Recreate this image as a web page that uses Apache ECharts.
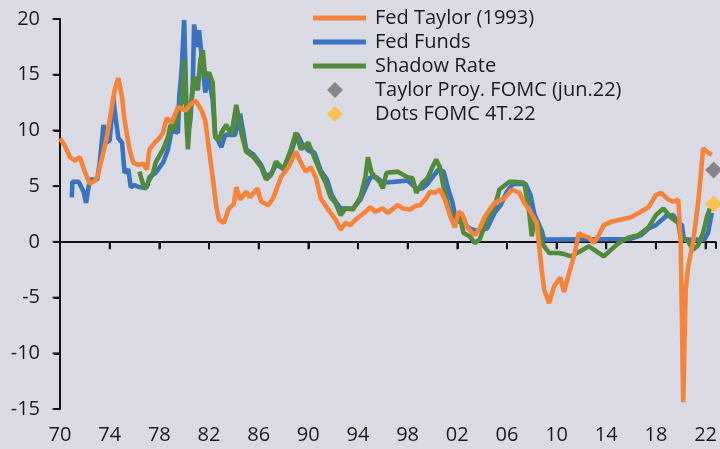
<!DOCTYPE html>
<html>
<head>
<meta charset="utf-8">
<script src="https://cdn.jsdelivr.net/npm/echarts@6/dist/echarts.min.js"></script>
<style>
  html, body { margin: 0; padding: 0; background: #dadae4; }
  #chart { width: 720px; height: 449px; }
</style>
</head>
<body>
<div id="chart"></div>
<script>
// ---------- DATA (year, value) ----------
const fedTaylor = [
  [1970.0, 9.3], [1970.4, 8.6], [1970.8, 7.6], [1971.2, 7.3], [1971.6, 7.6], [1972.0, 6.3],
  [1972.4, 5.2], [1972.8, 5.5], [1973.0, 5.8], [1973.4, 7.6], [1973.7, 9.0], [1974.0, 10.9],
  [1974.4, 13.6], [1974.7, 14.7], [1975.0, 13.0], [1975.2, 10.9], [1975.6, 8.3], [1975.9, 7.1],
  [1976.3, 6.9], [1976.7, 7.0], [1977.0, 6.5], [1977.2, 8.3], [1977.7, 9.0], [1978.0, 9.3],
  [1978.3, 9.8], [1978.6, 11.1], [1979.0, 10.7], [1979.5, 12.1], [1980.1, 11.8], [1980.5, 12.3],
  [1980.9, 12.7], [1981.4, 11.8], [1981.7, 10.9], [1982.0, 8.3], [1982.3, 5.8], [1982.6, 3.1],
  [1982.8, 2.0], [1983.2, 1.7], [1983.6, 3.0], [1984.0, 3.4], [1984.2, 4.9], [1984.5, 3.8],
  [1985.0, 4.5], [1985.3, 4.0], [1985.9, 4.8], [1986.2, 3.6], [1986.8, 3.3], [1987.2, 4.0],
  [1987.8, 5.8], [1988.4, 6.7], [1989.0, 8.1], [1989.4, 7.1], [1989.8, 6.3], [1990.2, 6.7],
  [1990.6, 5.8], [1991.0, 3.9], [1991.6, 2.9], [1992.2, 2.0], [1992.6, 1.1], [1993.0, 1.7],
  [1993.4, 1.5], [1993.8, 2.0], [1994.4, 2.5], [1995.0, 3.1], [1995.4, 2.7], [1996.0, 3.0],
  [1996.4, 2.6], [1997.2, 3.3], [1997.6, 3.0], [1998.2, 2.9], [1998.6, 3.2], [1999.0, 3.3],
  [1999.5, 3.9], [1999.8, 4.5], [2000.2, 4.4], [2000.6, 4.7], [2001.0, 3.8], [2001.4, 2.4],
  [2001.8, 1.3], [2002.1, 2.7], [2002.4, 2.5], [2002.8, 1.3], [2003.4, 0.6], [2003.8, 1.2],
  [2004.2, 2.2], [2004.6, 2.9], [2005.0, 3.5], [2005.8, 3.9], [2006.4, 4.7], [2007.0, 4.4],
  [2007.4, 3.5], [2007.8, 2.9], [2008.4, 1.7], [2008.6, -0.4], [2008.8, -2.5], [2009.0, -4.3],
  [2009.4, -5.5], [2009.8, -4.0], [2010.3, -3.2], [2010.6, -4.5], [2011.0, -2.8], [2011.4, -1.3],
  [2011.8, 0.8], [2012.0, 0.6], [2012.6, 0.4], [2013.0, -0.1], [2013.4, 0.6], [2013.8, 1.5],
  [2014.4, 1.8], [2015.2, 2.0], [2016.0, 2.2], [2016.8, 2.7], [2017.4, 3.1], [2018.0, 4.2],
  [2018.4, 4.4], [2019.0, 3.8], [2019.4, 3.6], [2019.8, 3.8], [2020.0, -0.1], [2020.2, -14.4],
  [2020.4, -4.3], [2020.6, -2.2], [2021.0, 0.0], [2021.4, 3.5], [2021.6, 5.8], [2021.8, 8.4],
  [2022.1, 8.1], [2022.5, 7.8]
];
const fedFunds = [
  [1970.95, 4.0], [1971.0, 5.4], [1971.5, 5.4], [1971.9, 4.5], [1972.1, 3.5], [1972.4, 5.6],
  [1973.0, 5.6], [1973.2, 7.1], [1973.5, 10.5], [1973.7, 8.9], [1974.0, 9.1], [1974.3, 13.0],
  [1974.4, 11.8], [1974.7, 9.3], [1975.0, 8.9], [1975.2, 6.2], [1975.5, 6.5], [1975.7, 4.9],
  [1976.0, 5.1], [1976.4, 4.9], [1977.0, 4.9], [1977.2, 5.8], [1977.7, 6.2], [1978.3, 7.1],
  [1978.7, 8.3], [1979.0, 10.0], [1979.5, 9.8], [1979.6, 13.0], [1979.8, 15.4], [1980.0, 19.9],
  [1980.25, 9.4], [1980.5, 10.9], [1980.7, 14.3], [1980.8, 19.5], [1981.1, 17.5], [1981.2, 19.0],
  [1981.5, 15.7], [1981.7, 13.4], [1982.0, 14.8], [1982.3, 12.7], [1982.5, 9.6], [1983.0, 8.5],
  [1983.3, 9.6], [1984.1, 9.6], [1984.5, 11.5], [1985.0, 8.3], [1985.6, 7.8], [1986.2, 6.9],
  [1986.6, 5.9], [1987.0, 6.1], [1987.4, 6.9], [1988.0, 6.6], [1988.6, 8.0], [1989.1, 9.7],
  [1989.5, 8.8], [1990.0, 8.2], [1990.5, 8.0], [1991.0, 6.4], [1991.5, 5.6], [1991.9, 4.2],
  [1992.2, 3.6], [1992.6, 3.0], [1993.0, 3.0], [1993.6, 3.0], [1994.2, 3.8], [1994.6, 4.8],
  [1995.0, 5.8], [1995.5, 5.8], [1996.0, 5.3], [1997.0, 5.4], [1998.0, 5.5], [1998.7, 4.8],
  [1999.2, 4.8], [1999.6, 5.2], [2000.0, 5.8], [2000.5, 6.5], [2000.9, 6.3], [2001.3, 4.6],
  [2001.6, 3.6], [2001.9, 1.9], [2002.5, 1.7], [2003.0, 1.2], [2003.5, 1.0], [2004.4, 1.2],
  [2005.0, 2.6], [2005.5, 3.3], [2006.0, 4.5], [2006.5, 5.2], [2007.5, 5.2], [2007.9, 4.2],
  [2008.2, 2.5], [2008.8, 1.0], [2009.0, 0.2], [2015.9, 0.25], [2016.8, 0.6], [2017.4, 1.2],
  [2018.0, 1.5], [2018.8, 2.3], [2019.4, 2.4], [2019.7, 1.8], [2020.1, 1.5], [2020.25, 0.2],
  [2021.9, 0.2], [2022.2, 0.8], [2022.5, 2.6]
];
const shadowRate = [
  [1976.4, 6.3], [1976.8, 4.7], [1977.0, 5.1], [1977.5, 6.2], [1977.7, 7.1], [1978.3, 8.3],
  [1978.7, 9.4], [1978.9, 10.5], [1979.2, 10.0], [1979.5, 11.6], [1979.8, 12.5], [1980.0, 16.3],
  [1980.3, 8.3], [1980.5, 11.8], [1980.8, 14.8], [1981.1, 13.6], [1981.3, 16.3], [1981.5, 17.2],
  [1981.7, 14.8], [1982.0, 15.2], [1982.3, 14.3], [1982.5, 9.4], [1982.8, 9.1], [1983.0, 9.8],
  [1983.4, 10.5], [1983.8, 9.6], [1984.2, 12.3], [1984.6, 9.8], [1985.0, 8.1], [1985.6, 7.6],
  [1986.2, 6.7], [1986.6, 5.6], [1987.0, 6.0], [1987.4, 7.2], [1988.0, 6.5], [1988.6, 8.3],
  [1989.0, 9.8], [1989.4, 8.3], [1990.0, 8.9], [1990.4, 7.8], [1991.0, 6.2], [1991.4, 5.3],
  [1991.8, 4.0], [1992.2, 3.5], [1992.6, 2.4], [1993.0, 3.0], [1993.6, 2.9], [1994.2, 4.0],
  [1994.6, 5.8], [1994.8, 7.6], [1995.1, 6.2], [1995.4, 5.8], [1995.8, 5.3], [1996.0, 4.8],
  [1996.3, 6.2], [1997.2, 6.3], [1998.0, 5.8], [1998.4, 5.7], [1998.7, 4.4], [1999.2, 5.3],
  [1999.6, 5.7], [2000.0, 6.7], [2000.3, 7.4], [2000.6, 6.7], [2000.9, 4.9], [2001.3, 3.1],
  [2001.6, 2.2], [2001.8, 1.8], [2002.2, 2.4], [2002.5, 0.8], [2003.0, 0.5], [2003.4, -0.1],
  [2003.8, 0.2], [2004.4, 2.0], [2005.0, 3.1], [2005.4, 4.7], [2006.2, 5.4], [2006.6, 5.4],
  [2007.4, 5.3], [2007.8, 2.6], [2008.0, 0.5], [2008.2, 2.0], [2008.6, 1.3], [2008.8, 0.0],
  [2009.0, -0.4], [2009.4, -1.0], [2010.2, -1.0], [2010.6, -1.1], [2011.2, -1.3], [2011.8, -0.9],
  [2012.6, -0.4], [2013.0, -0.7], [2013.8, -1.3], [2014.4, -0.7], [2015.0, -0.1], [2015.8, 0.4],
  [2016.6, 0.6], [2017.4, 1.3], [2018.0, 2.4], [2018.6, 3.0], [2019.2, 2.2], [2019.8, 1.7],
  [2020.0, 0.4], [2020.5, 0.2], [2021.0, -0.7], [2021.4, -0.3], [2021.8, 0.8], [2022.1, 2.2],
  [2022.35, 3.0]
];
const taylorProj = [[2022.65, 6.45]];
const dotsFomc = [[2022.65, 3.4]];

const xTickYears = [1970, 1974, 1978, 1982, 1986, 1990, 1994, 1998, 2002, 2006, 2010, 2014, 2018, 2022];
const xTickLabels = ['70', '74', '78', '82', '86', '90', '94', '98', '02', '06', '10', '14', '18', '22'];
const yTicks = [-15, -10, -5, 0, 5, 10, 15, 20];
const seriesNames = ['Fed Taylor (1993)', 'Fed Funds', 'Shadow Rate', 'Taylor Proy. FOMC (jun.22)', 'Dots FOMC 4T.22'];

// ---------- CHART ----------
const BASE = 1970;
const toXY = arr => arr.map(([yr, v]) => [yr - BASE, v]);
const xTickVals = xTickYears.map(y => y - BASE);
const FONT = 'Open Sans';
const TXT = '#1a1a1a';
const AX = '#111111';
const LW = 4.6;

const chart = echarts.init(document.getElementById('chart'), null, { renderer: 'canvas' });
chart.setOption({
  animation: false,
  backgroundColor: '#dadae4',
  textStyle: { fontFamily: FONT },
  grid: { left: 60, right: 0, top: 19, bottom: 40, containLabel: false },
  legend: [
    {
      data: seriesNames.slice(0, 3),
      orient: 'vertical', left: 313, top: 6, padding: 0, itemGap: 0,
      itemWidth: 53, itemHeight: 5, icon: 'rect', selectedMode: false,
      textStyle: { fontSize: 20, fontFamily: FONT, color: TXT, lineHeight: 24, padding: [0, 0, 0, 4] }
    },
    {
      data: seriesNames.slice(3),
      orient: 'vertical', left: 327, top: 78, padding: 0, itemGap: 0,
      itemWidth: 16, itemHeight: 16, icon: 'diamond', selectedMode: false,
      textStyle: { fontSize: 20, fontFamily: FONT, color: TXT, lineHeight: 24, padding: [0, 0, 0, 27] }
    }
  ],
  xAxis: [
    {
      type: 'value', min: 0, max: 52.8, position: 'bottom',
      axisLine: { show: false, onZero: false },
      axisTick: { show: false },
      splitLine: { show: false },
      axisLabel: {
        customValues: xTickVals, margin: 16, fontSize: 20, color: TXT, fontFamily: FONT,
        formatter: v => { const i = xTickVals.indexOf(Math.round(v)); return i >= 0 ? xTickLabels[i] : ''; }
      }
    },
    {
      type: 'value', min: 0, max: 52.8, interval: 4, position: 'bottom',
      axisLine: { show: true, onZero: true, lineStyle: { color: AX, width: 2 } },
      axisTick: { show: true, inside: false, length: 7, lineStyle: { color: AX, width: 2 } },
      axisLabel: { show: false },
      splitLine: { show: false }
    }
  ],
  yAxis: {
    type: 'value', min: -15, max: 20, interval: 5,
    axisLine: { show: true, onZero: false, lineStyle: { color: AX, width: 2 } },
    axisTick: { show: true, length: 6, lineStyle: { color: AX, width: 2 } },
    axisLabel: { margin: 20, fontSize: 20, color: TXT, fontFamily: FONT },
    splitLine: { show: false }
  },
  series: [
    {
      name: 'xTicks', type: 'scatter', data: xTickVals.map(v => [v, 0]), symbol: 'rect',
      symbolSize: [2, 7], symbolOffset: [0, 4], clip: false, silent: true, z: 1,
      itemStyle: { color: AX }, tooltip: { show: false }
    },
    {
      name: 'yTicks', type: 'scatter', data: yTicks.map(v => [0, v]), symbol: 'rect',
      symbolSize: [7, 2], symbolOffset: [-4, 0], clip: false, silent: true, z: 1,
      itemStyle: { color: AX }, tooltip: { show: false }
    },
    {
      name: seriesNames[0], type: 'line', data: toXY(fedTaylor), showSymbol: false, z: 4,
      color: '#f5843a', lineStyle: { width: LW, color: '#f5843a' }
    },
    {
      name: seriesNames[1], type: 'line', data: toXY(fedFunds), showSymbol: false, z: 2,
      color: '#3a73be', lineStyle: { width: LW, color: '#3a73be' }
    },
    {
      name: seriesNames[2], type: 'line', data: toXY(shadowRate), showSymbol: false, z: 3,
      color: '#528a3c', lineStyle: { width: LW, color: '#528a3c' }
    },
    {
      name: seriesNames[3], type: 'scatter', data: toXY(taylorProj), symbol: 'diamond', symbolSize: 17, z: 5,
      color: '#707070', itemStyle: { color: '#707070' }
    },
    {
      name: seriesNames[4], type: 'scatter', data: toXY(dotsFomc), symbol: 'diamond', symbolSize: 17, z: 5,
      color: '#fdbd2d', itemStyle: { color: '#fdbd2d' }
    }
  ]
});
</script>
</body>
</html>
